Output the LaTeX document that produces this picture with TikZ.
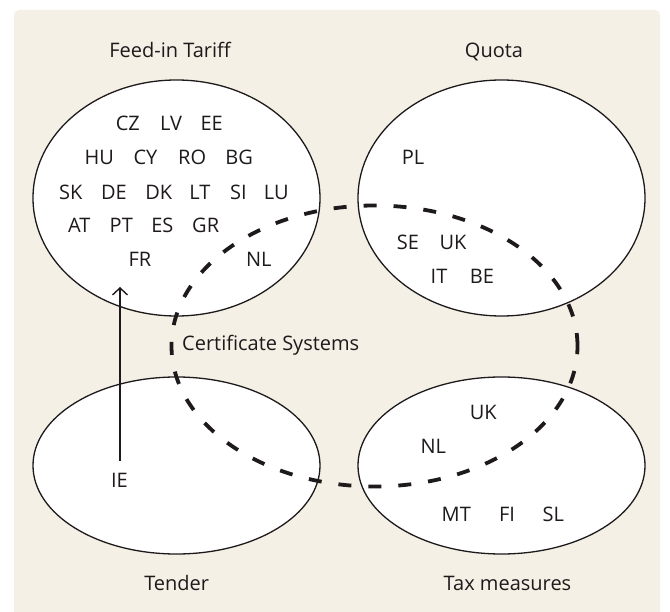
\documentclass[tikz,border=0pt]{standalone}
\usepackage{fontspec}
\setmainfont{Open Sans}
\usetikzlibrary{shapes.geometric,arrows.meta}
\definecolor{bgbeige}{HTML}{F4F0E5}
\definecolor{ink}{HTML}{1E1A1B}
\tikzset{
  setell/.style={ellipse, draw=ink, line width=1.3pt, fill=white, inner sep=0pt, outer sep=0pt},
  certell/.style={ellipse, draw=ink, line width=3.8pt, dash pattern=on 13pt off 17pt, inner sep=0pt, outer sep=0pt},
  cc/.style={anchor=base, inner sep=0pt, text=ink, font=\fontsize{20}{23}\selectfont},
  lbl/.style={anchor=base, inner sep=0pt, text=ink, font=\fontsize{20}{23}\selectfont},
  arr/.style={draw=ink, line width=1.4pt, -{Straight Barb[length=7pt,width=15pt,line width=1.4pt]}}
}
\begin{document}
\begin{tikzpicture}[x=1pt,y=-1pt]
\useasboundingbox (0,0) rectangle (670,612);
\fill[bgbeige, rounded corners=5pt] (14,10) rectangle (660,618);
% set ellipses
\node[setell, minimum width=287pt, minimum height=236pt] (fit) at (176.5,198) {};
\node[setell, minimum width=287pt, minimum height=236pt] (quota) at (501.5,198) {};
\node[setell, minimum width=287pt, minimum height=177pt] (tender) at (176.5,465.5) {};
\node[setell, minimum width=287pt, minimum height=177pt] (tax) at (501.5,465.5) {};
% titles
\node[lbl] (tfit) at (170,57.3) {Feed-in Tariff};
\node[lbl] (tquota) at (494,57.3) {Quota};
\node[lbl] (ttender) at (176.7,590) {Tender};
\node[lbl] (ttax) at (507.5,590) {Tax measures};
\node[lbl, anchor=base west] (tcert) at (182,351) {Certificate Systems};
% feed-in tariff countries
\node[cc] (f-CZ) at (127.8,130.7) {CZ};
\node[cc] (f-LV) at (171,130.7) {LV};
\node[cc] (f-EE) at (211.7,130.7) {EE};
\node[cc] (f-HU) at (99.2,165) {HU};
\node[cc] (f-CY) at (145.5,165) {CY};
\node[cc] (f-RO) at (192.2,165) {RO};
\node[cc] (f-BG) at (239.2,165) {BG};
\node[cc] (f-SK) at (70.8,199.3) {SK};
\node[cc] (f-DE) at (114,199.3) {DE};
\node[cc] (f-DK) at (158.7,199.3) {DK};
\node[cc] (f-LT) at (200,199.3) {LT};
\node[cc] (f-SI) at (238.3,199.3) {SI};
\node[cc] (f-LU) at (276.3,199.3) {LU};
\node[cc] (f-AT) at (79.3,232.7) {AT};
\node[cc] (f-PT) at (121.3,232.7) {PT};
\node[cc] (f-ES) at (162.3,232.7) {ES};
\node[cc] (f-GR) at (205.7,232.7) {GR};
\node[cc] (f-FR) at (140,266.7) {FR};
\node[cc] (f-NL) at (258.8,266.7) {NL};
% quota countries
\node[cc] (q-PL) at (413,165) {PL};
\node[cc] (q-SE) at (408,250) {SE};
\node[cc] (q-UK) at (453,250) {UK};
\node[cc] (q-IT) at (439,284) {IT};
\node[cc] (q-BE) at (482,284) {BE};
% tax countries
\node[cc] (x-UK) at (483.3,419.3) {UK};
\node[cc] (x-NL) at (433.3,453.7) {NL};
\node[cc] (x-MT) at (456.3,521) {MT};
\node[cc] (x-FI) at (507,521) {FI};
\node[cc] (x-SL) at (553.3,521) {SL};
% tender
\node[cc] (t-IE) at (119.5,487.7) {IE};
% arrow IE -> feed-in tariff
\coordinate (arrtip) at (120,287);
\draw[arr] (t-IE.north -| arrtip) ++(0,-12) -- (arrtip);
% certificate systems
\node[certell, minimum width=406pt, minimum height=281pt] (cert) at (374.5,346) {};
\end{tikzpicture}
\end{document}
